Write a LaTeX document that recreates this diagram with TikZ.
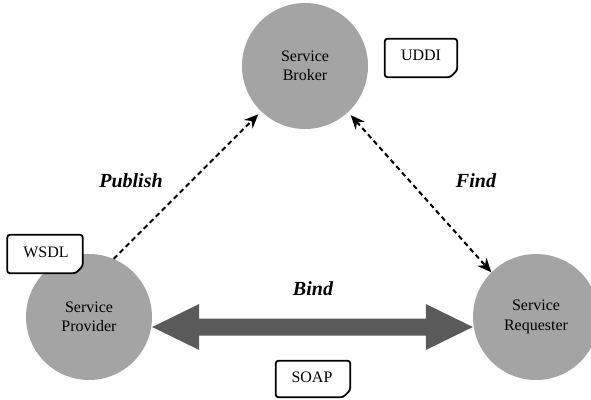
\documentclass[tikz,border=0pt]{standalone}
\usepackage{fontspec}
\setmainfont{Liberation Serif}
\usetikzlibrary{arrows.meta,calc}
\definecolor{ballgray}{HTML}{A4A4A4}
\definecolor{bindgray}{HTML}{5A5A5A}
\tikzset{
  mytip/.tip={Stealth[length=14pt,width=12pt,inset=4.5pt]},
  ball/.style={circle, fill=ballgray, minimum size=126pt, inner sep=0pt, align=center,
    font=\fontsize{16}{19.5}\selectfont, text=black},
  verb/.style={font=\fontsize{20}{22}\selectfont\bfseries\itshape},
  tag/.style={inner sep=0pt, font=\fontsize{16}{18}\selectfont},
  tagline/.style={draw=black, line width=1.8pt, rounded corners=2.5pt, fill=white},
  dasharrow/.style={draw=black, line width=2pt, dash pattern=on 5pt off 3.5pt, arrows={-mytip}},
  dasharrows/.style={dasharrow, arrows={mytip-mytip}},
  bindshape/.style={fill=bindgray}
}
\begin{document}
\begin{tikzpicture}[x=1pt,y=-1pt]
\useasboundingbox (0,0) rectangle (591,399);
% circles
\node[ball] (brok) at (305,66) {Service\\Broker};
\node[ball] (prov) at (89,317) {Service\\Provider};
\node[ball] (req)  at (536,317) {Service\\Requester};
% tag frames
\node[inner sep=0pt, minimum width=72pt, minimum height=38pt] (uddiF) at (421,58) {};
\node[inner sep=0pt, minimum width=75pt, minimum height=38pt] (wsdlF) at (45,254) {};
\node[inner sep=0pt, minimum width=74pt, minimum height=36pt] (soapF) at (313,379) {};
\foreach \t in {uddiF,wsdlF,soapF}{
  \draw[tagline] (\t.north west) -- (\t.north east) -- ($(\t.south east)+(0,-7)$)
     -- ($(\t.south east)+(-7,0)$) -- (\t.south west) -- cycle;
}
\node[tag] (uddi) at (421,55) {UDDI};
\node[tag] (wsdl) at (46,252) {WSDL};
\node[tag] (soap) at (312,377) {SOAP};
% publish / find
\draw[dasharrow, shorten >=4pt] (prov.67) -- (brok.226);
\draw[dasharrows, shorten <=4pt] (brok.313) -- (req.135);
% bind arrow
\coordinate (bl) at ($(prov.east)+(0,10)$);
\coordinate (br) at ($(req.west)+(0,10)$);
\fill[bindshape] (bl) -- ($(bl)+(47,-23)$) -- ($(bl)+(47,-8.5)$) -- ($(br)+(-47,-8.5)$)
  -- ($(br)+(-47,-23)$) -- (br) -- ($(br)+(-47,23)$) -- ($(br)+(-47,8.5)$)
  -- ($(bl)+(47,8.5)$) -- ($(bl)+(47,23)$) -- cycle;
% labels
\node[verb] (publish) at (131,181) {Publish};
\node[verb] (find) at (476,181) {Find};
\node[verb] (bind) at (313,289) {Bind};
\end{tikzpicture}
\end{document}
